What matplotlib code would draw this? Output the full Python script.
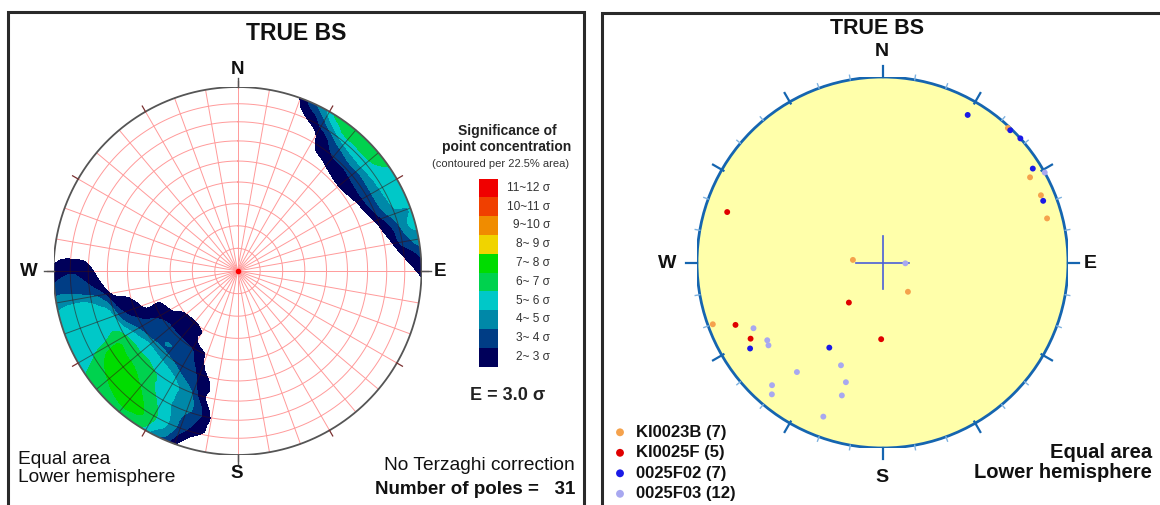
import numpy as np
import matplotlib
matplotlib.use('Agg')
import matplotlib.pyplot as plt
from matplotlib.patches import Circle, Rectangle

plt.rcParams['font.family'] = ['Liberation Sans', 'DejaVu Sans']

# ---------------- data: poles (trend, plunge) in degrees ----------------
ki0023b_trend = [275, 139, 43, 60, 67, 75, 250]
ki0023b_plunge = [77, 73, 1, 9, 8, 9, 3]
ki0025f_trend = [220, 181, 288, 247, 240]
ki0025f_plunge = [67, 56, 13, 15, 19]
f02_trend = [212, 30, 44, 48, 58, 69, 237]
f02_plunge = [45, 9, 1, 0, 5, 8, 16]
f03_trend = [92, 61, 243, 236, 234, 202, 218, 197, 222, 220, 197, 201]
f03_plunge = [80, 0, 23, 26, 25, 40, 26, 33, 12, 8, 26, 12]

series_names = ['KI0023B', 'KI0025F', '0025F02', '0025F03']
series_trends = [ki0023b_trend, ki0025f_trend, f02_trend, f03_trend]
series_plunges = [ki0023b_plunge, ki0025f_plunge, f02_plunge, f03_plunge]
series_colors = ['#f5a24c', '#e00000', '#1a1ae6', '#a8a8f0']

sigma_levels = [2, 3, 4, 5, 6, 7, 8, 9, 10, 11, 12]
level_colors = ['#00005a', '#003d85', '#0088a8', '#00c8c8', '#00d24e',
                '#00dc00', '#f0d400', '#f08c00', '#f04000', '#f00000']
counting_area = 0.225  # fraction of hemisphere per counting circle

W, H = 1160, 505
fig = plt.figure(figsize=(W / 100, H / 100), dpi=100)
bg = fig.add_axes([0, 0, 1, 1])
bg.set_xlim(0, W)
bg.set_ylim(H, 0)
bg.axis('off')


def project(trend, plunge):
    t = np.radians(np.asarray(trend, float))
    p = np.radians(np.asarray(plunge, float))
    r = np.sqrt(2) * np.sin((np.pi / 2 - p) / 2)
    return r * np.sin(t), r * np.cos(t)


def vec(trend, plunge):
    t = np.radians(np.asarray(trend, float))
    p = np.radians(np.asarray(plunge, float))
    return np.stack([np.cos(p) * np.sin(t), np.cos(p) * np.cos(t), -np.sin(p)], -1)


def net_axes(cx, cy, R):
    ax = fig.add_axes([(cx - R) / W, (H - cy - R) / H, 2 * R / W, 2 * R / H])
    ax.set_xlim(-1, 1)
    ax.set_ylim(-1, 1)
    ax.axis('off')
    return ax


# ---------------- frames ----------------
bg.plot([8, 8, 584, 584], [520, 12, 12, 520], color='#2a2a2a', lw=2.2, solid_joinstyle='miter')
bg.plot([602, 602, 1175], [520, 12.5, 12.5], color='#2a2a2a', lw=2.2, solid_joinstyle='miter')

# ================= LEFT: contoured density (Kamb counting) =================
lcx, lcy, lR = 237.5, 271, 184
axL = net_axes(lcx, lcy, lR)

all_tr = sum(series_trends, [])
all_pl = sum(series_plunges, [])
P = vec(all_tr, all_pl)
N = len(all_tr)
n = 361
g = np.linspace(-1.02, 1.02, n)
GX, GY = np.meshgrid(g, g)
Rg = np.clip(np.hypot(GX, GY), 0, 1)
gpl = 90 - 2 * np.degrees(np.arcsin(Rg / np.sqrt(2)))
gtr = np.degrees(np.arctan2(GX, GY))
V = vec(gtr, gpl)
dots = np.abs(V @ P.T)
count = (1.0 / (1.0 + np.exp(-(dots - (1 - counting_area)) / 0.012))).sum(-1)
E = N * counting_area
sig = np.sqrt(N * counting_area * (1 - counting_area))
Z = (count - E) / sig

rim = Circle((0, 0), 1, transform=axL.transData, facecolor='none')
cs = axL.contourf(GX, GY, Z, levels=sigma_levels, colors=level_colors, zorder=2)
cs.set_clip_path(rim)
region = axL.contourf(GX, GY, Z, levels=[sigma_levels[0], 1e9], colors='none', zorder=0)
region_path = region.get_paths()[0]

# polar grid (pink on white, darker over the contours)
th = np.linspace(0, 2 * np.pi, 400)
grid_lines = []
for pl in range(10, 90, 10):
    r = np.sqrt(2) * np.sin(np.radians(90 - pl) / 2)
    grid_lines.append((r * np.sin(th), r * np.cos(th)))
for az in range(0, 360, 10):
    a = np.radians(az)
    grid_lines.append(([0, np.sin(a)], [0, np.cos(a)]))
for gx, gy in grid_lines:
    axL.plot(gx, gy, color='#ff9a9a', lw=0.7, zorder=1)
    ln, = axL.plot(gx, gy, color='#3a1010', alpha=0.55, lw=0.7, zorder=3)
    ln.set_clip_path(region_path, axL.transData)

axL.plot(np.sin(th), np.cos(th), color='#555555', lw=1.3, zorder=4)
for az in range(0, 360, 30):
    a = np.radians(az)
    axL.plot([np.sin(a), 1.035 * np.sin(a)], [np.cos(a), 1.035 * np.cos(a)],
             color='#7a3030', lw=0.9, clip_on=False, zorder=4)
for az in (0, 90, 180, 270):
    a = np.radians(az)
    axL.plot([np.sin(a), 1.05 * np.sin(a)], [np.cos(a), 1.05 * np.cos(a)],
             color='#555555', lw=1.0, clip_on=False, zorder=4)
axL.plot(0, 0, 'o', color='red', ms=3, zorder=5)

bg.text(296, 33, 'TRUE BS', ha='center', va='center', fontsize=16.5, fontweight='bold', color='#111')
bg.text(237, 70, 'N', ha='center', va='center', fontsize=13.5, fontweight='bold', color='#111')
bg.text(237, 474, 'S', ha='center', va='center', fontsize=13.5, fontweight='bold', color='#111')
bg.text(29, 271, 'W', ha='center', va='center', fontsize=13.5, fontweight='bold', color='#111')
bg.text(440, 271, 'E', ha='center', va='center', fontsize=13.5, fontweight='bold', color='#111')

bg.text(507, 131, 'Significance of', ha='center', va='center', fontsize=10, fontweight='bold', color='#222')
bg.text(507, 147, 'point concentration', ha='center', va='center', fontsize=10, fontweight='bold', color='#222')
bg.text(501, 164, '(contoured per 22.5% area)', ha='center', va='center', fontsize=8, color='#333')

sw_x, sw_y0, sw_w, sw_h = 478.5, 178.5, 19.5, 18.8
nlev = len(level_colors)
for i in range(nlev):
    k = nlev - 1 - i
    bg.add_patch(Rectangle((sw_x, sw_y0 + i * sw_h), sw_w, sw_h,
                           facecolor=level_colors[k], edgecolor='none'))
    lo, hi = sigma_levels[k], sigma_levels[k + 1]
    bg.text(550, sw_y0 + (i + 0.5) * sw_h, f'{lo}~{hi:2d} σ', ha='right', va='center',
            fontsize=8.6, color='#333')

bg.text(508, 395, 'E = 3.0 σ', ha='center', va='center', fontsize=13, fontweight='bold', color='#222')
bg.text(18, 459, 'Equal area', ha='left', va='center', fontsize=13.8, color='#111')
bg.text(18, 477, 'Lower hemisphere', ha='left', va='center', fontsize=13.8, color='#111')
bg.text(575, 466, 'No Terzaghi correction', ha='right', va='center', fontsize=13.8, color='#111')
bg.text(575, 490, f'Number of poles =   {N}', ha='right', va='center', fontsize=13.5,
        fontweight='bold', color='#111')

# ================= RIGHT: pole plot =================
rcx, rcy, rR = 882.5, 262.5, 185.5
axR = net_axes(rcx, rcy, rR)
axR.add_patch(Circle((0, 0), 1, facecolor='#ffffaa', edgecolor='#1565b0', lw=2.0, zorder=1))
for az in range(0, 360, 10):
    a = np.radians(az)
    if az % 90 == 0:
        r0, r1, c, lw = 1.0, 1.06, '#1565b0', 1.6
    elif az % 30 == 0:
        r0, r1, c, lw = 0.99, 1.055, '#1565b0', 1.6
    else:
        r0, r1, c, lw = 1.0, 1.025, '#7fb2e0', 1.0
    axR.plot([r0 * np.sin(a), r1 * np.sin(a)], [r0 * np.cos(a), r1 * np.cos(a)],
             color=c, lw=lw, clip_on=False, zorder=2)
cl = 0.145
axR.plot([-cl, cl], [0, 0], color='#4a5fd8', lw=1.2, zorder=3)
axR.plot([0, 0], [-cl, cl], color='#4a5fd8', lw=1.2, zorder=3)

for tr, pl, col in zip(series_trends, series_plunges, series_colors):
    x, y = project(tr, pl)
    axR.scatter(x, y, s=18, color=col, edgecolors='none', zorder=4)

bg.text(877, 28, 'TRUE BS', ha='center', va='center', fontsize=15.5, fontweight='bold', color='#111')
bg.text(882, 52, 'N', ha='center', va='center', fontsize=14, fontweight='bold', color='#111')
bg.text(882, 477, 'S', ha='center', va='center', fontsize=14, fontweight='bold', color='#111')
bg.text(667, 263, 'W', ha='center', va='center', fontsize=14, fontweight='bold', color='#111')
bg.text(1090, 263, 'E', ha='center', va='center', fontsize=14, fontweight='bold', color='#111')

for i, (name, tr, col) in enumerate(zip(series_names, series_trends, series_colors)):
    yy = 432.3 + i * 20.5
    bg.scatter([620], [yy], s=32, color=col, edgecolors='none')
    bg.text(636, yy, f'{name} ({len(tr)})', ha='left', va='center', fontsize=12,
            fontweight='bold', color='#111')

bg.text(1152, 452, 'Equal area', ha='right', va='center', fontsize=14.5, fontweight='bold', color='#111')
bg.text(1152, 472, 'Lower hemisphere', ha='right', va='center', fontsize=14.5, fontweight='bold', color='#111')

fig.savefig('out.png', dpi=100)
